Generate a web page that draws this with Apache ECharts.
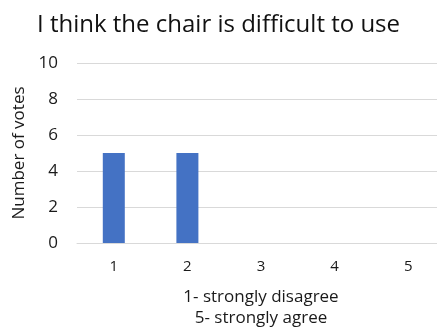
<!DOCTYPE html>
<html>
<head>
<meta charset="utf-8">
<script src="https://cdn.jsdelivr.net/npm/echarts@6/dist/echarts.min.js"></script>
<style>
  html, body { margin: 0; padding: 0; background: #fff; }
  #chart { width: 437px; height: 333px; }
</style>
</head>
<body>
<div id="chart"></div>
<script>
// Survey responses on a 1–5 agreement scale
const categories = ['1', '2', '3', '4', '5'];
const votes = [5, 5, 0, 0, 0];
const yTicks = { min: 0, max: 10, interval: 2 };

const chart = echarts.init(document.getElementById('chart'));
const font = 'Open Sans, Noto Sans, sans-serif';

chart.setOption({
  animation: false,
  title: {
    text: 'I think the chair is difficult to use',
    left: 'center',
    top: 8,
    textStyle: { fontFamily: font, fontSize: 24, fontWeight: 'normal', color: '#111' }
  },
  grid: { left: 77, top: 63, width: 368, height: 180, containLabel: false, outerBoundsMode: 'none' },
  xAxis: {
    type: 'category',
    data: categories,
    name: '1- strongly disagree\n5- strongly agree',
    nameLocation: 'middle',
    nameGap: 44,
    nameTextStyle: { fontFamily: font, fontSize: 17, color: '#1a1a1a', lineHeight: 21 },
    axisLine: { lineStyle: { color: '#d9d9d9', width: 1 } },
    axisTick: { show: false },
    axisLabel: { fontFamily: font, fontSize: 15, color: '#1a1a1a', margin: 16 }
  },
  yAxis: {
    type: 'value',
    min: yTicks.min,
    max: yTicks.max,
    interval: yTicks.interval,
    name: 'Number of votes',
    nameLocation: 'middle',
    nameGap: 47,
    nameTextStyle: { fontFamily: font, fontSize: 17, color: '#1a1a1a' },
    axisLine: { show: false },
    axisTick: { show: false },
    axisLabel: { fontFamily: font, fontSize: 17, color: '#1a1a1a', margin: 19 },
    splitLine: { lineStyle: { color: '#d9d9d9', width: 1 } }
  },
  series: [{
    type: 'bar',
    data: votes,
    barWidth: 22,
    itemStyle: { color: '#4472c4' }
  }]
});
</script>
</body>
</html>
